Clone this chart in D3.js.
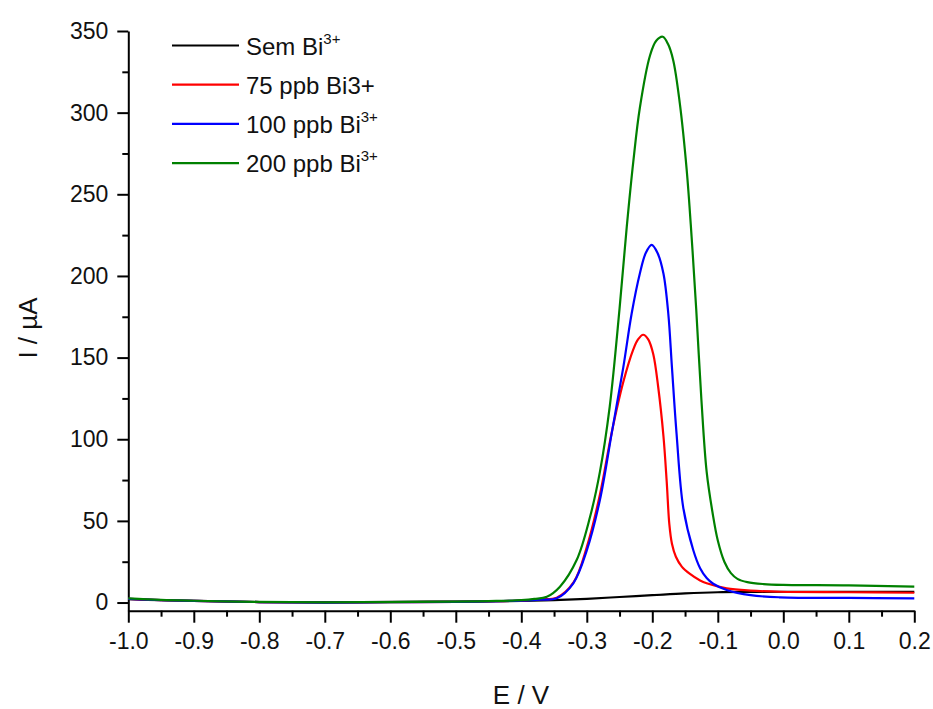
<!DOCTYPE html>
<html>
<head>
<meta charset="utf-8">
<script src="https://cdn.jsdelivr.net/npm/d3@7"></script>
<style>
  body { margin: 0; background: #fff; }
  svg text { font-family: "Liberation Sans", Arial, sans-serif; fill: #111; }
</style>
</head>
<body>
<script>
// Width and height of SVG canvas
var w = 933, h = 709;

// [E (V), I (uA)]
var semBi = [[-1.0,2.0],[-0.95,1.4],[-0.9,1.0],[-0.8,0.3],[-0.7,0.2],[-0.6,0.4],[-0.5,0.6],[-0.4,1.0],
  [-0.35,1.5],[-0.3,2.3],[-0.25,3.4],[-0.2,4.5],[-0.15,5.6],[-0.1,6.3],[-0.05,6.5],[0.0,6.6],[0.1,6.6],[0.2,6.5]];

var bi75 = [[-1.0,2.2],[-0.95,1.5],[-0.9,1.0],[-0.8,0.3],[-0.7,0.0],[-0.6,0.2],[-0.5,0.4],[-0.45,0.7],[-0.4,1.2],
  [-0.37,2.0],[-0.346,3.0],[-0.32,12.5],[-0.30,34],[-0.28,66],[-0.262,104],[-0.2443,135],[-0.229,155],
  [-0.222,161],[-0.214,164],[-0.206,161],[-0.1985,152],[-0.191,132],[-0.183,102],[-0.178,74],[-0.174,48],
  [-0.17,36],[-0.164,28],[-0.155,22],[-0.1425,17.5],[-0.127,13.5],[-0.117,11.8],[-0.0865,8.7],[-0.05,7.3],
  [-0.005,6.6],[0.1,6.3],[0.2,6.0]];

var bi100 = [[-1.0,2.2],[-0.95,1.5],[-0.9,1.0],[-0.8,0.3],[-0.7,0.0],[-0.6,0.2],[-0.5,0.4],[-0.45,0.7],[-0.4,1.2],
  [-0.37,1.8],[-0.346,2.6],[-0.3206,11.8],[-0.30,32],[-0.28,62.8],[-0.262,103.6],[-0.2443,144],[-0.2315,177],
  [-0.219,201.5],[-0.21,214],[-0.201,219],[-0.192,214],[-0.183,201.5],[-0.1756,177],[-0.170,144],[-0.163,103.6],
  [-0.1527,58],[-0.1374,32],[-0.127,21],[-0.117,15.0],[-0.107,11.5],[-0.0865,7.7],[-0.05,4.5],[-0.005,3.2],
  [0.1,2.8],[0.2,2.6]];

var bi200 = [[-1.0,2.5],[-0.95,1.6],[-0.9,1.1],[-0.8,0.4],[-0.7,0.1],[-0.6,0.3],[-0.5,0.5],[-0.45,0.9],[-0.4,1.5],
  [-0.38,2.2],[-0.361,3.5],[-0.341,9.7],[-0.3155,26],[-0.295,52.5],[-0.28,80],[-0.265,120],[-0.25,180],
  [-0.239,230],[-0.229,270],[-0.219,303],[-0.2035,335],[-0.194,344],[-0.184,346.5],[-0.176,342],[-0.168,332],
  [-0.158,305.7],[-0.1475,265],[-0.14,224],[-0.133,180],[-0.125,124],[-0.117,80],[-0.108,55],[-0.1,38],
  [-0.09,25],[-0.08,18],[-0.07,14.5],[-0.055,12.5],[-0.03,11.3],[0.0,10.8],[0.1,10.5],[0.2,9.7]];

var seriesNames = ["Sem Bi", "75 ppb Bi3+", "100 ppb Bi", "200 ppb Bi"];
var seriesSup = ["3+", "", "3+", "3+"];
var seriesColors = ["#000000", "#ff0000", "#0000ff", "#008000"];
var seriesData = [semBi, bi75, bi100, bi200];

var xTicks = [-1.0,-0.9,-0.8,-0.7,-0.6,-0.5,-0.4,-0.3,-0.2,-0.1,0.0,0.1,0.2];
var yTicks = [0,50,100,150,200,250,300,350];

var svg = d3.select("body")
  .append("svg")
  .attr("width", w)
  .attr("height", h);

// scales
var x = d3.scaleLinear().domain([-1.0, 0.2]).range([128.3, 914.3]);
var y = d3.scaleLinear().domain([-5, 350]).range([610.7, 31]);

// minor ticks
var xMinor = d3.range(-0.95, 0.2, 0.1);
var yMinor = d3.range(25, 350, 50);

svg.append("g")
  .attr("transform", "translate(0," + y(-5) + ")")
  .call(d3.axisBottom(x).tickValues(xMinor).tickSize(6).tickSizeOuter(0).tickFormat(""))
  .call(function(g){ g.select(".domain").remove(); })
  .selectAll("line").attr("stroke-width", 2);

svg.append("g")
  .attr("transform", "translate(" + x(-1.0) + ",0)")
  .call(d3.axisLeft(y).tickValues(yMinor).tickSize(6).tickSizeOuter(0).tickFormat(""))
  .call(function(g){ g.select(".domain").remove(); })
  .selectAll("line").attr("stroke-width", 2);

// major axes
var fmt = d3.format(".1f");
var xAxis = svg.append("g")
  .attr("transform", "translate(0," + y(-5) + ")")
  .call(d3.axisBottom(x).tickValues(xTicks).tickSize(12).tickSizeOuter(0).tickPadding(10)
    .tickFormat(function(d){ return fmt(d).replace("\u2212", "-"); }));
xAxis.selectAll("line").attr("stroke-width", 2);
xAxis.select(".domain").attr("stroke-width", 2);
xAxis.selectAll("text").style("font-size", "23px").attr("fill", "#111");

var yAxis = svg.append("g")
  .attr("transform", "translate(" + x(-1.0) + ",0)")
  .call(d3.axisLeft(y).tickValues(yTicks).tickSize(11).tickSizeOuter(0).tickPadding(9));
yAxis.selectAll("line").attr("stroke-width", 2);
yAxis.select(".domain").attr("stroke-width", 2);
yAxis.selectAll("text").style("font-size", "23px").attr("fill", "#111");

// axis titles
svg.append("text")
  .attr("x", 521).attr("y", 704)
  .attr("text-anchor", "middle")
  .style("font-size", "26px")
  .text("E / V");

svg.append("text")
  .attr("transform", "translate(37,328) rotate(-90)")
  .attr("text-anchor", "middle")
  .style("font-size", "26px")
  .text("I / µA");

// curves
var line = d3.line()
  .x(function(d){ return x(d[0]); })
  .y(function(d){ return y(d[1]); })
  .curve(d3.curveCatmullRom.alpha(0.5));

svg.selectAll(".curve")
  .data(seriesData)
  .enter()
  .append("path")
  .attr("class", "curve")
  .attr("d", line)
  .attr("fill", "none")
  .attr("stroke", function(d, i){ return seriesColors[i]; })
  .attr("stroke-width", 2.2)
  .attr("stroke-linejoin", "round");

// legend
var legend = svg.selectAll(".legend")
  .data(seriesNames)
  .enter()
  .append("g")
  .attr("class", "legend")
  .attr("transform", function(d, i){ return "translate(172," + (45.5 + i * 39.2) + ")"; });

legend.append("line")
  .attr("x1", 0).attr("x2", 67)
  .attr("y1", 0).attr("y2", 0)
  .attr("stroke", function(d, i){ return seriesColors[i]; })
  .attr("stroke-width", 2.2);

var lt = legend.append("text")
  .attr("x", 74).attr("y", 9)
  .style("font-size", "24px");
lt.append("tspan").text(function(d){ return d; });
lt.append("tspan")
  .attr("dy", -11)
  .style("font-size", "15px")
  .text(function(d, i){ return seriesSup[i]; });
</script>
</body>
</html>
